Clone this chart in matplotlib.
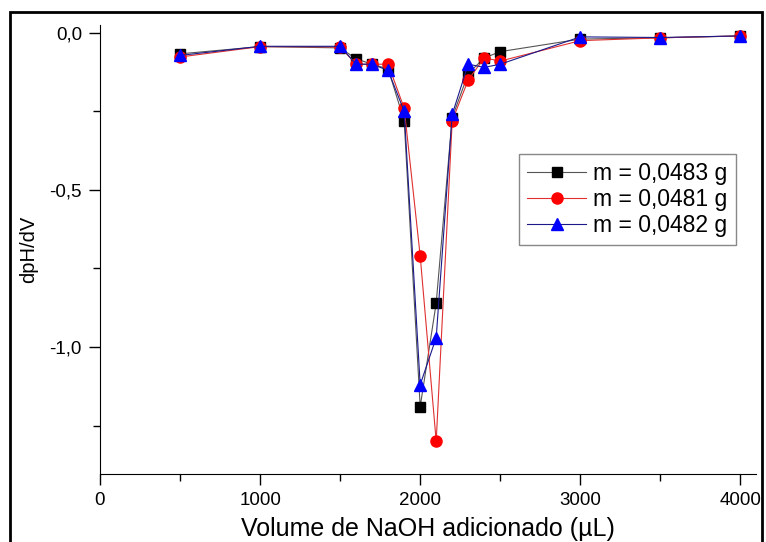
import matplotlib.pyplot as plt
from matplotlib.patches import Rectangle
from matplotlib.ticker import MultipleLocator, FuncFormatter

plt.rcParams['font.family'] = ['Liberation Sans', 'DejaVu Sans']

volume = [500, 1000, 1500, 1600, 1700, 1800, 1900, 2000, 2100, 2200, 2300, 2400, 2500, 3000, 3500, 4000]
dph_0483 = [-0.067, -0.044, -0.048, -0.083, -0.10, -0.115, -0.28, -1.19, -0.86, -0.27, -0.13, -0.08, -0.06, -0.02, -0.016, -0.01]
dph_0481 = [-0.077, -0.044, -0.045, -0.10, -0.10, -0.10, -0.24, -0.71, -1.30, -0.28, -0.15, -0.08, -0.09, -0.025, -0.016, -0.01]
dph_0482 = [-0.072, -0.043, -0.043, -0.10, -0.10, -0.12, -0.25, -1.12, -0.97, -0.26, -0.10, -0.11, -0.10, -0.013, -0.015, -0.01]
labels = ['m = 0,0483 g', 'm = 0,0481 g', 'm = 0,0482 g']

fig = plt.figure(figsize=(7.66, 5.42), dpi=100)
ax = fig.add_axes([0.1305, 0.1255, 0.857, 0.8285])

ax.plot(volume, dph_0483, color='#555555', lw=0.8, marker='s', ms=7,
        mfc='black', mec='black', label=labels[0])
ax.plot(volume, dph_0481, color='#e03030', lw=0.8, marker='o', ms=8,
        mfc='red', mec='red', label=labels[1])
ax.plot(volume, dph_0482, color='#1a1a8a', lw=0.8, marker='^', ms=9,
        mfc='blue', mec='blue', label=labels[2])

ax.set_xlim(0, 4100)
ax.set_ylim(-1.404, 0.025)
ax.xaxis.set_major_locator(MultipleLocator(1000))
ax.xaxis.set_minor_locator(MultipleLocator(500))
ax.yaxis.set_major_locator(MultipleLocator(0.5))
ax.yaxis.set_minor_locator(MultipleLocator(0.25))
ax.yaxis.set_major_formatter(FuncFormatter(lambda v, p: ('%.1f' % v).replace('.', ',')))

for s in ['top', 'right']:
    ax.spines[s].set_visible(False)
ax.tick_params(which='major', direction='out', length=8, width=1, labelsize=13.5, pad=5)
ax.tick_params(which='minor', direction='out', length=5, width=1)

ax.set_xlabel('Volume de NaOH adicionado (µL)', fontsize=18, labelpad=6)
ax.set_ylabel('dpH/dV', fontsize=14.5, labelpad=8)

leg = ax.legend(loc='upper left', bbox_to_anchor=(0.638, 0.712), fontsize=16.5,
                fancybox=False, edgecolor='#888888', framealpha=1, borderaxespad=0,
                handlelength=2.6, borderpad=0.35, labelspacing=0.12, handletextpad=0.3)
leg.get_frame().set_linewidth(1)

fig.patches.append(Rectangle((10 / 766, -0.01), 752 / 766, 1 - 12 / 542 + 0.01,
                             transform=fig.transFigure, fill=False, lw=2, ec='black'))

fig.savefig('out.png', dpi=100)
